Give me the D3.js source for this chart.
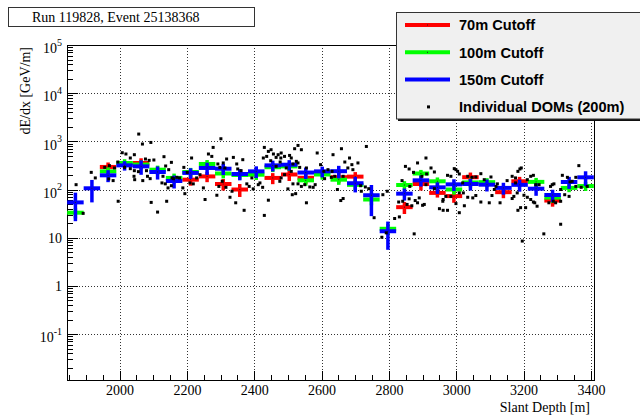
<!DOCTYPE html>
<html>
<head>
<meta charset="utf-8">
<script src="https://cdn.jsdelivr.net/npm/d3@7"></script>
<style>
  body { margin: 0; background: #fff; }
  svg { display: block; }
</style>
</head>
<body>
<svg id="chart" width="640" height="415"></svg>
<script>
// ---- data ----------------------------------------------------------------
const eventTitle = "Run 119828, Event 25138368";
const xTitle = "Slant Depth [m]";
const yTitle = "dE/dx [GeV/m]";

// slant-depth bin centres (m) shared by the three unfoldings
const binDepth = [1869,1918,1966,2015,2064,2113,2162,2211,2260,2308,2357,2406,2455,2504,2553,2602,
                  2651,2700,2748,2797,2846,2895,2944,2993,3042,3091,3140,3188,3237,3286,3335,3384];
const binHalfWidth = 24.5;

// dE/dx (GeV/m) per bin and its uncertainty; null = no entry
const cut70  = [null,null,294,null,355,null,null,160,187,130,100,null,174,205,175,null,
                180,185,null,null,43,130,85,73,180,null,88,148,null,59,null,null];
const err70  = [null,null,70,null,90,null,null,40,45,35,30,null,45,55,45,null,
                45,45,null,null,12,35,17,20,45,null,22,35,null,15,null,null];
const cut100 = [33,null,238,355,330,258,174,231,339,215,200,203,290,302,155,205,
                160,125,62,15.3,124,215,148,100,140,142,null,null,144,68,108,118];
const err100 = [8,null,50,70,70,55,40,50,70,45,40,45,60,60,35,45,
                35,30,15,4,25,40,30,22,30,30,null,null,30,15,20,25];
const cut150 = [54,106,197,317,302,231,150,221,280,270,210,238,317,327,225,238,
                240,135,76,13.6,82,155,111,128,130,126,108,125,104,77,143,179];
const err150 = [32,52,55,70,100,70,45,55,80,70,55,65,80,80,60,60,
                70,48,48,8,23,40,30,35,35,35,30,35,30,22,40,60];

// individual DOM estimates: [slant depth (m), dE/dx (GeV/m)]
const domPoints = [
  [1871,126],[1916,227],[1928,174],[1892,32],[1956,288],[1970,313],[1985,280],[1968,166],[1981,153],
  [1996,57],[1995,372],[2008,580],[2019,546],[2032,451],[2044,528],[2057,1416],[2068,879],[2093,949],
  [2077,430],[2088,403],[2102,410],[2015,288],[2032,271],[2044,246],[2056,235],[2043,188],[2045,160],
  [2069,153],[2083,188],[2091,168],[2080,246],[2094,54],[2113,34],[2140,57],[2132,480],[2137,308],
  [2146,258],[2154,366],[2129,188],[2126,137],[2136,131],[2144,108],[2154,120],[2156,174],
  [2170,179],[2160,168],[2178,174],[2188,108],[2194,82],[2191,288],[2201,227],[2214,451],[2209,137],
  [2219,131],[2229,174],[2239,203],[2249,108],[2254,62],[2264,546],[2274,487],[2278,748],[2301,1132],
  [2292,339],[2298,288],[2308,356],[2318,430],[2313,280],[2305,148],[2289,76],[2295,116],[2316,111],
  [2328,69],[2334,92],[2338,464],[2348,339],[2351,267],[2361,246],[2366,416],[2345,53],[2370,37],
  [2378,131],[2385,116],[2393,174],[2397,103],[2412,126],[2417,137],[2425,111],[2430,29],[2442,60],
  [2430,748],[2427,451],[2437,487],[2442,618],[2450,670],[2457,546],[2465,464],[2471,528],[2479,451],
  [2449,396],[2465,302],[2477,372],
  [2480,573],[2490,487],[2505,510],[2520,703],[2530,822],[2540,670],[2510,451],[2525,384],[2515,339],
  [2495,280],[2510,238],[2530,356],[2535,288],[2555,280],[2480,174],[2490,203],[2476,148],[2515,131],
  [2530,131],[2540,116],[2550,126],[2565,113],[2575,111],[2581,126],[2500,103],[2513,78],[2523,82],
  [2555,53],[2587,573],[2597,328],[2607,238],[2619,258],[2631,238],[2609,168],[2629,179],[2639,188],
  [2634,528],[2647,100],[2659,703],[2664,188],[2669,372],[2683,451],[2678,280],[2690,328],[2708,356],
  [2693,258],[2733,783],[2657,59],[2664,65],[2716,120],[2730,113],[2740,104],[2718,92],[2756,26],
  [2782,78],[2795,92],[2792,12.6],[2779,10.2],
  [2910,451],[2849,302],[2860,267],[2873,227],[2885,356],[2898,188],[2912,210],[2925,280],[2935,231],
  [2839,153],[2862,116],[2860,64],[2841,57],[2829,55],[2854,49],[2868,46],[2878,59],[2885,53],
  [2890,67],[2900,47],[2905,49],[2831,27],[2817,25],[2875,12],[2910,126],[2935,104],[2950,40],
  [2961,37],[2974,37],[2974,197],[2984,188],[2999,258],[2994,271],[3004,238],[3009,210],[3009,85],
  [3021,85],[2984,72],[2969,72],[2961,62],[2960,57],[2999,51],[3009,33],[3024,46],[3034,69],
  [3049,67],[3058,75],[3073,55],[3098,53],[3106,75],[3034,188],[3047,179],[3058,182],[3073,213],
  [3083,160],[3103,182],[3019,137],[3113,100],[3118,116],
  [3130,53],[3122,131],[3151,153],[3166,188],[3176,174],[3183,238],[3189,267],[3193,280],[3176,137],
  [3181,85],[3166,65],[3171,72],[3201,76],[3211,69],[3221,62],[3229,55],[3233,53],[3240,45],
  [3191,42],[3183,37],[3206,42],[3196,8.5],[3260,12],[3211,160],[3221,188],[3229,197],[3236,126],
  [3246,126],[3280,116],[3285,126],[3290,131],[3275,53],[3288,57],[3295,53],[3310,57],[3310,100],
  [3315,197],[3330,179],[3338,144],[3344,148],[3355,179],[3322,78],[3335,72],[3310,19],[3364,313],
  [3355,116],[3371,111],[3389,116]
];

// axis ticks
const xTicks = [2000,2200,2400,2600,2800,3000,3200,3400];
const xMinorStep = 50;
const yTickExp = [5,4,3,2,1,0,-1];

const legendItems = [
  { label: "70m Cutoff",  color: "#ff0000", kind: "line" },
  { label: "100m Cutoff", color: "#00ff00", kind: "line" },
  { label: "150m Cutoff", color: "#0000ff", kind: "line" },
  { label: "Individual DOMs (200m)", color: "#000", kind: "dot" }
];

// ---- layout & scales -------------------------------------------------------
const frame = { left: 67, right: 594, top: 45, bottom: 380 };
const x = d3.scaleLinear().domain([1844, 3409]).range([frame.left, frame.right]);
const y = d3.scaleLog().domain([0.0111, 1e5]).range([frame.bottom, frame.top]);

const svg = d3.select("#chart");
const serif = "'Liberation Serif', 'Times New Roman', serif";
const sans = "'Liberation Sans', Arial, Helvetica, sans-serif";

// ---- grid ------------------------------------------------------------------
const grid = svg.append("g").attr("stroke", "#333").attr("stroke-width", 1)
  .attr("stroke-dasharray", "1 2");
grid.selectAll("line.gx").data(xTicks).join("line").attr("class", "gx")
  .attr("x1", d => Math.round(x(d)) + 0.5).attr("x2", d => Math.round(x(d)) + 0.5)
  .attr("y1", frame.top).attr("y2", frame.bottom);
grid.selectAll("line.gy").data(yTickExp.filter(e => e < 5).map(e => Math.pow(10, e)))
  .join("line").attr("class", "gy")
  .attr("x1", frame.left).attr("x2", frame.right)
  .attr("y1", d => Math.round(y(d)) + 0.5).attr("y2", d => Math.round(y(d)) + 0.5);

// ---- axes ------------------------------------------------------------------
const xMinor = d3.range(1850, 3410, xMinorStep).filter(v => !xTicks.includes(v));
const yMajor = yTickExp.map(e => Math.pow(10, e));
const yMinor = [];
for (let e = -2; e <= 4; e++) for (let m = 2; m <= 9; m++) {
  const v = m * Math.pow(10, e);
  if (v >= y.domain()[0] && v <= y.domain()[1]) yMinor.push(v);
}

const gxMinor = svg.append("g").attr("transform", `translate(0,${frame.bottom})`)
  .call(d3.axisBottom(x).tickValues(xMinor).tickSize(-5).tickSizeOuter(0).tickFormat(""));
const gx = svg.append("g").attr("transform", `translate(0,${frame.bottom})`)
  .call(d3.axisBottom(x).tickValues(xTicks).tickSize(-9).tickSizeOuter(0).tickPadding(5)
    .tickFormat(d3.format("d")));
const gyMinor = svg.append("g").attr("transform", `translate(${frame.left},0)`)
  .call(d3.axisLeft(y).tickValues(yMinor).tickSize(-6).tickSizeOuter(0).tickFormat(""));
const gy = svg.append("g").attr("transform", `translate(${frame.left},0)`)
  .call(d3.axisLeft(y).tickValues(yMajor).tickSize(-11).tickSizeOuter(0).tickFormat(""));

[gxMinor, gx, gyMinor, gy].forEach(g => {
  g.select(".domain").remove();
  g.selectAll(".tick line").attr("stroke", "#000").attr("shape-rendering", "crispEdges");
});
gx.selectAll(".tick text").attr("font-family", serif).attr("font-size", 14).attr("fill", "#000");

// log-axis labels: 1, 10, 10^n
gy.selectAll(".tick").each(function(d) {
  const e = Math.round(Math.log10(d));
  const t = d3.select(this).append("text").attr("x", -5).attr("text-anchor", "end")
    .attr("font-family", serif).attr("font-size", 14).attr("fill", "#000");
  if (e === 0 || e === 1) {
    t.attr("dy", "0.35em").text(e === 0 ? "1" : "10");
  } else {
    t.attr("dy", "0.55em");
    t.append("tspan").text("10");
    t.append("tspan").attr("font-size", 10).attr("dy", "-0.75em").text(String(e));
  }
});

// frame
svg.append("rect").attr("x", frame.left + 0.5).attr("y", frame.top + 0.5)
  .attr("width", frame.right - frame.left).attr("height", frame.bottom - frame.top)
  .attr("fill", "none").attr("stroke", "#000").attr("stroke-width", 1);

// axis titles
svg.append("text").attr("x", 590).attr("y", 412).attr("text-anchor", "end")
  .attr("font-family", serif).attr("font-size", 14).text(xTitle);
svg.append("text").attr("transform", `translate(30,${frame.top + 2}) rotate(-90)`)
  .attr("text-anchor", "end").attr("font-family", serif).attr("font-size", 14).text(yTitle);

// ---- error-bar series --------------------------------------------------------
function drawSeries(values, errors, color) {
  const rows = binDepth.map((d, i) => ({ d, v: values[i], e: errors[i] }))
    .filter(r => r.v != null);
  const g = svg.append("g").attr("stroke", color);
  g.selectAll("line.h").data(rows).join("line").attr("class", "h")
    .attr("x1", r => x(r.d - binHalfWidth)).attr("x2", r => x(r.d + binHalfWidth))
    .attr("y1", r => y(r.v)).attr("y2", r => y(r.v)).attr("stroke-width", 4);
  g.selectAll("line.v").data(rows).join("line").attr("class", "v")
    .attr("x1", r => x(r.d)).attr("x2", r => x(r.d))
    .attr("y1", r => y(r.v + r.e)).attr("y2", r => y(Math.max(r.v - r.e, 0.02)))
    .attr("stroke-width", 3.5);
  g.selectAll("rect.c").data(rows).join("rect").attr("class", "c")
    .attr("x", r => x(r.d) - 0.5).attr("y", r => y(r.v) - 0.5)
    .attr("width", 1).attr("height", 1).attr("fill", "#222").attr("stroke", "none");
}
drawSeries(cut70, err70, "#ff0000");
drawSeries(cut100, err100, "#00ff00");
drawSeries(cut150, err150, "#0000ff");

// individual DOMs
svg.append("g").selectAll("rect").data(domPoints).join("rect")
  .attr("x", p => x(p[0]) - 1.5).attr("y", p => y(p[1]) - 1.5)
  .attr("width", 3).attr("height", 3).attr("fill", "#000");

// ---- title box ---------------------------------------------------------------
svg.append("rect").attr("x", 8.5).attr("y", 7.5).attr("width", 246).attr("height", 19)
  .attr("fill", "#fff").attr("stroke", "#333");
svg.append("text").attr("x", 32).attr("y", 22).attr("font-family", serif)
  .attr("font-size", 14).text(eventTitle);

// ---- legend ------------------------------------------------------------------
const lg = svg.append("g");
lg.append("rect").attr("x", 398).attr("y", 13.5).attr("width", 260).attr("height", 107.5)
  .attr("fill", "#111");
lg.append("rect").attr("x", 396.5).attr("y", 12.5).attr("width", 260).attr("height", 106.5)
  .attr("fill", "#f0f0f0").attr("stroke", "#333");
legendItems.forEach((it, i) => {
  const cy = 25 + i * 27.3;
  if (it.kind === "line") {
    lg.append("line").attr("x1", 405).attr("x2", 450).attr("y1", cy).attr("y2", cy)
      .attr("stroke", it.color).attr("stroke-width", 4);
    lg.append("rect").attr("x", 427).attr("y", cy - 0.5).attr("width", 1).attr("height", 1)
      .attr("fill", "#222");
  } else {
    lg.append("rect").attr("x", 427).attr("y", cy - 1.5).attr("width", 3).attr("height", 3)
      .attr("fill", it.color);
  }
  lg.append("text").attr("x", 459).attr("y", cy).attr("dy", "0.36em")
    .attr("font-family", sans).attr("font-weight", "bold").attr("font-size", 14.6)
    .attr("fill", "#000").text(it.label);
});
</script>
</body>
</html>
